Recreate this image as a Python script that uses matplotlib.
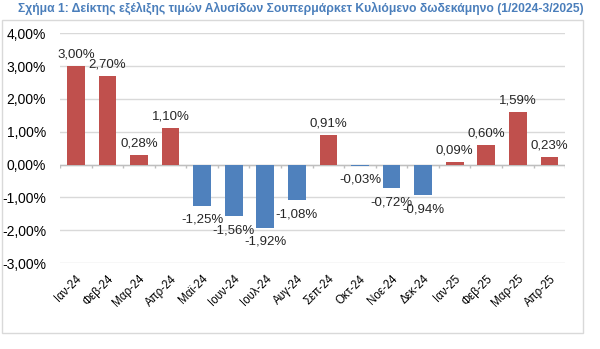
import matplotlib.pyplot as plt
from matplotlib.patches import Rectangle
import numpy as np

plt.rcParams['font.family'] = ['Liberation Sans', 'DejaVu Sans']

# data
months = ['Ιαν-24', 'Φεβ-24', 'Μαρ-24', 'Απρ-24', 'Μαϊ-24', 'Ιουν-24', 'Ιουλ-24', 'Αυγ-24',
          'Σεπ-24', 'Οκτ-24', 'Νοε-24', 'Δεκ-24', 'Ιαν-25', 'Φεβ-25', 'Μαρ-25', 'Απρ-25']
values = [3.00, 2.70, 0.28, 1.10, -1.25, -1.56, -1.92, -1.08,
          0.91, -0.03, -0.72, -0.94, 0.09, 0.60, 1.59, 0.23]
yticks = [-3, -2, -1, 0, 1, 2, 3, 4]

red = '#C0504D'
blue = '#4F81BD'

fig = plt.figure(figsize=(6, 3.49), dpi=100)
# chart frame
fig.patches.append(Rectangle((0.004, 0.046), 0.968, 0.897, transform=fig.transFigure,
                             fill=False, edgecolor='#d9d9d9', linewidth=1))
fig.text(0.502, 0.977, 'Σχήμα 1: Δείκτης εξέλιξης τιμών Αλυσίδων Σουπερμάρκετ Κυλιόμενο δωδεκάμηνο (1/2024-3/2025)',
         ha='center', va='center', fontsize=8.7, fontweight='bold', color='#4a7ebb')

ax = fig.add_axes([0.1, 0.246, 0.842, 0.659])
x = np.arange(len(values))
colors = [red if v >= 0 else blue for v in values]
ax.bar(x, values, width=0.56, color=colors, zorder=3)

ax.set_xlim(-0.5, len(values) - 0.5)
ax.set_ylim(-3, 4)
ax.set_yticks(yticks)
ax.set_yticklabels([f'{t:.2f}%'.replace('.', ',') for t in yticks], fontsize=10)
ax.yaxis.grid(True, color='#d9d9d9', linewidth=1, zorder=0)
ax.tick_params(axis='y', length=0, pad=10)
ax.set_xticks(x)
ax.set_xticklabels(months, rotation=45, ha='right', rotation_mode='anchor', fontsize=8.3)
ax.tick_params(axis='x', length=0, pad=7)
for s in ax.spines.values():
    s.set_visible(False)

ax.axhline(0, color='#bfbfbf', linewidth=1, zorder=2)
ax.vlines(np.arange(len(values) + 1) - 0.5, -0.1, 0, color='#bfbfbf', linewidth=1, zorder=2)

for xi, v in zip(x, values):
    lab = f'{v:.2f}%'.replace('.', ',')
    if v >= 0:
        ax.annotate(lab, (xi, v), xytext=(0, 4), textcoords='offset points',
                    ha='center', va='bottom', fontsize=9.5, color='#262626')
    else:
        ax.annotate(lab, (xi, v), xytext=(0, -6), textcoords='offset points',
                    ha='center', va='top', fontsize=9.5, color='#262626')

fig.savefig('out.png', dpi=100)
